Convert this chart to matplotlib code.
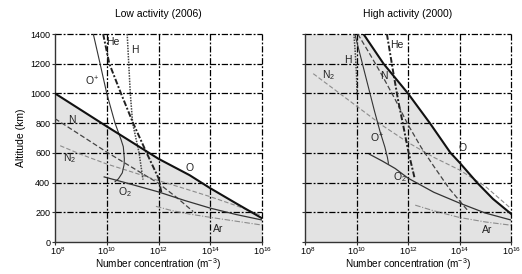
import numpy as np
import matplotlib
matplotlib.use("Agg")
import matplotlib.pyplot as plt
from matplotlib.transforms import ScaledTranslation

plt.rcParams['font.family'] = ['Liberation Sans', 'DejaVu Sans']
plt.rcParams['mathtext.fontset'] = 'custom'
plt.rcParams['mathtext.rm'] = 'Liberation Sans'
plt.rcParams['mathtext.it'] = 'Liberation Sans:italic'
plt.rcParams['mathtext.bf'] = 'Liberation Sans:bold'

# ---------------- data (log10 concentration, altitude km) ----------------
# Low activity (2006)
low_O_logn   = [8, 9, 10, 11, 12, 13.2, 14, 15, 16]
low_O_alt    = [1000, 889, 778, 669, 560, 450, 362, 260, 160]
low_Op_logn  = [9.48, 9.74, 10.0, 10.32, 10.55, 10.64, 10.68, 10.67, 10.6, 10.45, 10.32]
low_Op_alt   = [1400, 1202, 1000, 800, 690, 641, 560, 520, 465, 425, 406]
low_He_logn  = [9.86, 10.1, 10.55, 11.02, 11.54, 12.0, 12.12]
low_He_alt   = [1400, 1200, 1000, 800, 600, 430, 325]
low_H_logn   = [10.79, 10.85, 10.91, 11.0, 11.25, 11.4]
low_H_alt    = [1400, 1200, 1000, 800, 600, 420]
low_N_logn   = [8, 9, 10, 11, 12, 12.7, 13.34]
low_N_alt    = [830, 718, 605, 500, 395, 300, 205]
low_N2_logn  = [8.2, 9, 10, 11, 12, 13, 14, 15, 16]
low_N2_alt   = [648, 590, 525, 470, 413, 360, 305, 245, 178]
low_O2_logn  = [9.9, 10.6, 11.28, 12, 13, 14, 15, 16]
low_O2_alt   = [438, 405, 372, 337, 280, 228, 185, 148]
low_Ar_logn  = [11.9, 12.5, 13.2, 14, 15, 16]
low_Ar_alt   = [240, 212, 188, 166, 140, 114]

# High activity (2000)
high_O_logn  = [10.27, 11.05, 12.0, 12.85, 13.65, 14.0, 14.68, 15.3, 16]
high_O_alt   = [1400, 1200, 1000, 800, 600, 535, 400, 290, 190]
high_Op_logn = [9.95, 10.2, 10.45, 10.7, 10.92, 11.1, 11.2, 11.24]
high_Op_alt  = [1390, 1220, 1050, 880, 740, 640, 570, 530]
high_He_logn = [11.18, 11.42, 11.62, 11.82, 12.0, 12.12, 12.25]
high_He_alt  = [1400, 1150, 950, 780, 620, 530, 435]
high_H_logn  = [9.9, 9.95, 10.0, 10.02]
high_H_alt   = [1400, 1280, 1130, 990]
high_N_logn  = [10.05, 10.5, 11.0, 11.5, 12.0, 12.5, 13.0, 13.6, 14.3]
high_N_alt   = [1400, 1270, 1120, 960, 790, 640, 510, 360, 216]
high_N2_logn = [8.32, 9, 10, 11, 12, 13, 14, 15, 16]
high_N2_alt  = [1133, 1045, 915, 785, 670, 570, 485, 375, 225]
high_O2_logn = [10.5, 11, 11.5, 12, 13, 14, 15, 16]
high_O2_alt  = [591, 545, 495, 430, 335, 262, 195, 148]
high_Ar_logn = [12.28, 13, 14, 15, 16]
high_Ar_alt  = [248, 210, 165, 135, 113]

xticks_exp = [8, 10, 12, 14, 16]
yticks = [0, 200, 400, 600, 800, 1000, 1200, 1400]

panels = [
    dict(title="Low activity (2006)",
         O=(low_O_logn, low_O_alt), Op=(low_Op_logn, low_Op_alt),
         He=(low_He_logn, low_He_alt), H=(low_H_logn, low_H_alt),
         N=(low_N_logn, low_N_alt), N2=(low_N2_logn, low_N2_alt),
         O2=(low_O2_logn, low_O2_alt), Ar=(low_Ar_logn, low_Ar_alt),
         labels=[("He", 10.24, 1346), ("H", 11.09, 1292), ("O$^{+}$", 9.42, 1079),
                 ("N", 8.64, 821), ("N$_2$", 8.58, 565), ("O", 13.21, 498),
                 ("O$_2$", 10.7, 338), ("Ar", 14.3, 85)]),
    dict(title="High activity (2000)",
         O=(high_O_logn, high_O_alt), Op=(high_Op_logn, high_Op_alt),
         He=(high_He_logn, high_He_alt), H=(high_H_logn, high_H_alt),
         N=(high_N_logn, high_N_alt), N2=(high_N2_logn, high_N2_alt),
         O2=(high_O2_logn, high_O2_alt), Ar=(high_Ar_logn, high_Ar_alt),
         labels=[("He", 11.57, 1326), ("H", 9.68, 1225), ("N$_2$", 8.91, 1124),
                 ("N", 11.05, 1117), ("O$^{+}$", 10.79, 698), ("O", 14.1, 630),
                 ("O$_2$", 11.69, 440), ("Ar", 15.07, 81)]),
]

styles = {
    'O':  dict(color='#111111', lw=1.5, ls='-'),
    'Op': dict(color='#333333', lw=0.8, ls='-'),
    'O2': dict(color='#333333', lw=0.9, ls='-'),
    'He': dict(color='#222222', lw=1.4, ls=(0, (3, 1, 1, 1))),
    'H':  dict(color='#444444', lw=1.1, ls=(0, (1, 0.8))),
    'N':  dict(color='#444444', lw=0.9, ls=(0, (4, 2))),
    'N2': dict(color='#8c8c8c', lw=0.8, ls=(0, (4, 2))),
    'Ar': dict(color='#8c8c8c', lw=0.8, ls=(0, (5, 1.5, 1, 1.5))),
}

fig = plt.figure(figsize=(5.22, 2.74), dpi=100)
positions = [[55/522, 1-242/274, 207/522, 208/274],
             [305/522, 1-242/274, 206/522, 208/274]]

xmin, xmax = 10.0**xticks_exp[0], 10.0**xticks_exp[-1]
ymin, ymax = yticks[0], yticks[-1]

for i, (p, pos) in enumerate(zip(panels, positions)):
    ax = fig.add_axes(pos)
    ax.set_xscale('log')
    ax.set_xlim(xmin, xmax)
    ax.set_ylim(ymin, ymax)

    # shaded region under the O profile
    ologn, oalt = p['O']
    fx = list(10.0**np.array(ologn))
    fy = list(oalt)
    if fy[0] >= ymax:
        fx = [xmin] + fx
        fy = [ymax] + fy
    ax.fill_between(fx, ymin, fy, color='#e3e3e3', lw=0, zorder=0)

    # grid
    for e in xticks_exp[1:]:
        ax.axvline(10.0**e, color='black', lw=0.9, ls=(0, (5, 1.5, 1.5, 1.5)), zorder=1, clip_on=False)
    for y in yticks[1:]:
        ax.axhline(y, color='black', lw=0.9, ls=(0, (5, 1.5, 1.5, 1.5)), zorder=1, clip_on=False)

    for key in ['N2', 'Ar', 'N', 'O2', 'Op', 'H', 'He', 'O']:
        lg, al = p[key]
        ax.plot(10.0**np.array(lg), al, zorder=3, **styles[key])

    for txt, lx, ly in p['labels']:
        ax.text(10.0**lx, ly, txt, fontsize=7.5, color='#222222', ha='center', va='center', zorder=4)

    ax.set_xticks([10.0**e for e in xticks_exp])
    ax.set_xticklabels([f"10$^{{{e}}}$" for e in xticks_exp])
    ax.minorticks_off()
    ax.set_yticks(yticks)
    if i == 0:
        ax.set_yticklabels([str(y) for y in yticks])
        ax.set_ylabel("Altitude (km)", fontsize=7.5, labelpad=3)
    else:
        ax.set_yticklabels([])
    ax.tick_params(labelsize=6.5, length=2, width=0.8, color='#333333', pad=1.5)
    ax.tick_params(axis='x', pad=0.5)
    # nudge the first x tick label to the right, as in the reference
    first = ax.get_xticklabels()[0]
    first.set_transform(first.get_transform() + ScaledTranslation(3/100, 0, fig.dpi_scale_trans))
    for s in ['top', 'right']:
        ax.spines[s].set_visible(False)
    for s in ['left', 'bottom']:
        ax.spines[s].set_color('#333333')
        ax.spines[s].set_linewidth(1.0)
    ax.set_xlabel("Number concentration (m$^{-3}$)", fontsize=7.2)
    ax.xaxis.set_label_coords(0.5, -0.068)
    ax.set_title(p['title'], fontsize=7.5, pad=12)

fig.savefig("out.png", dpi=100)
